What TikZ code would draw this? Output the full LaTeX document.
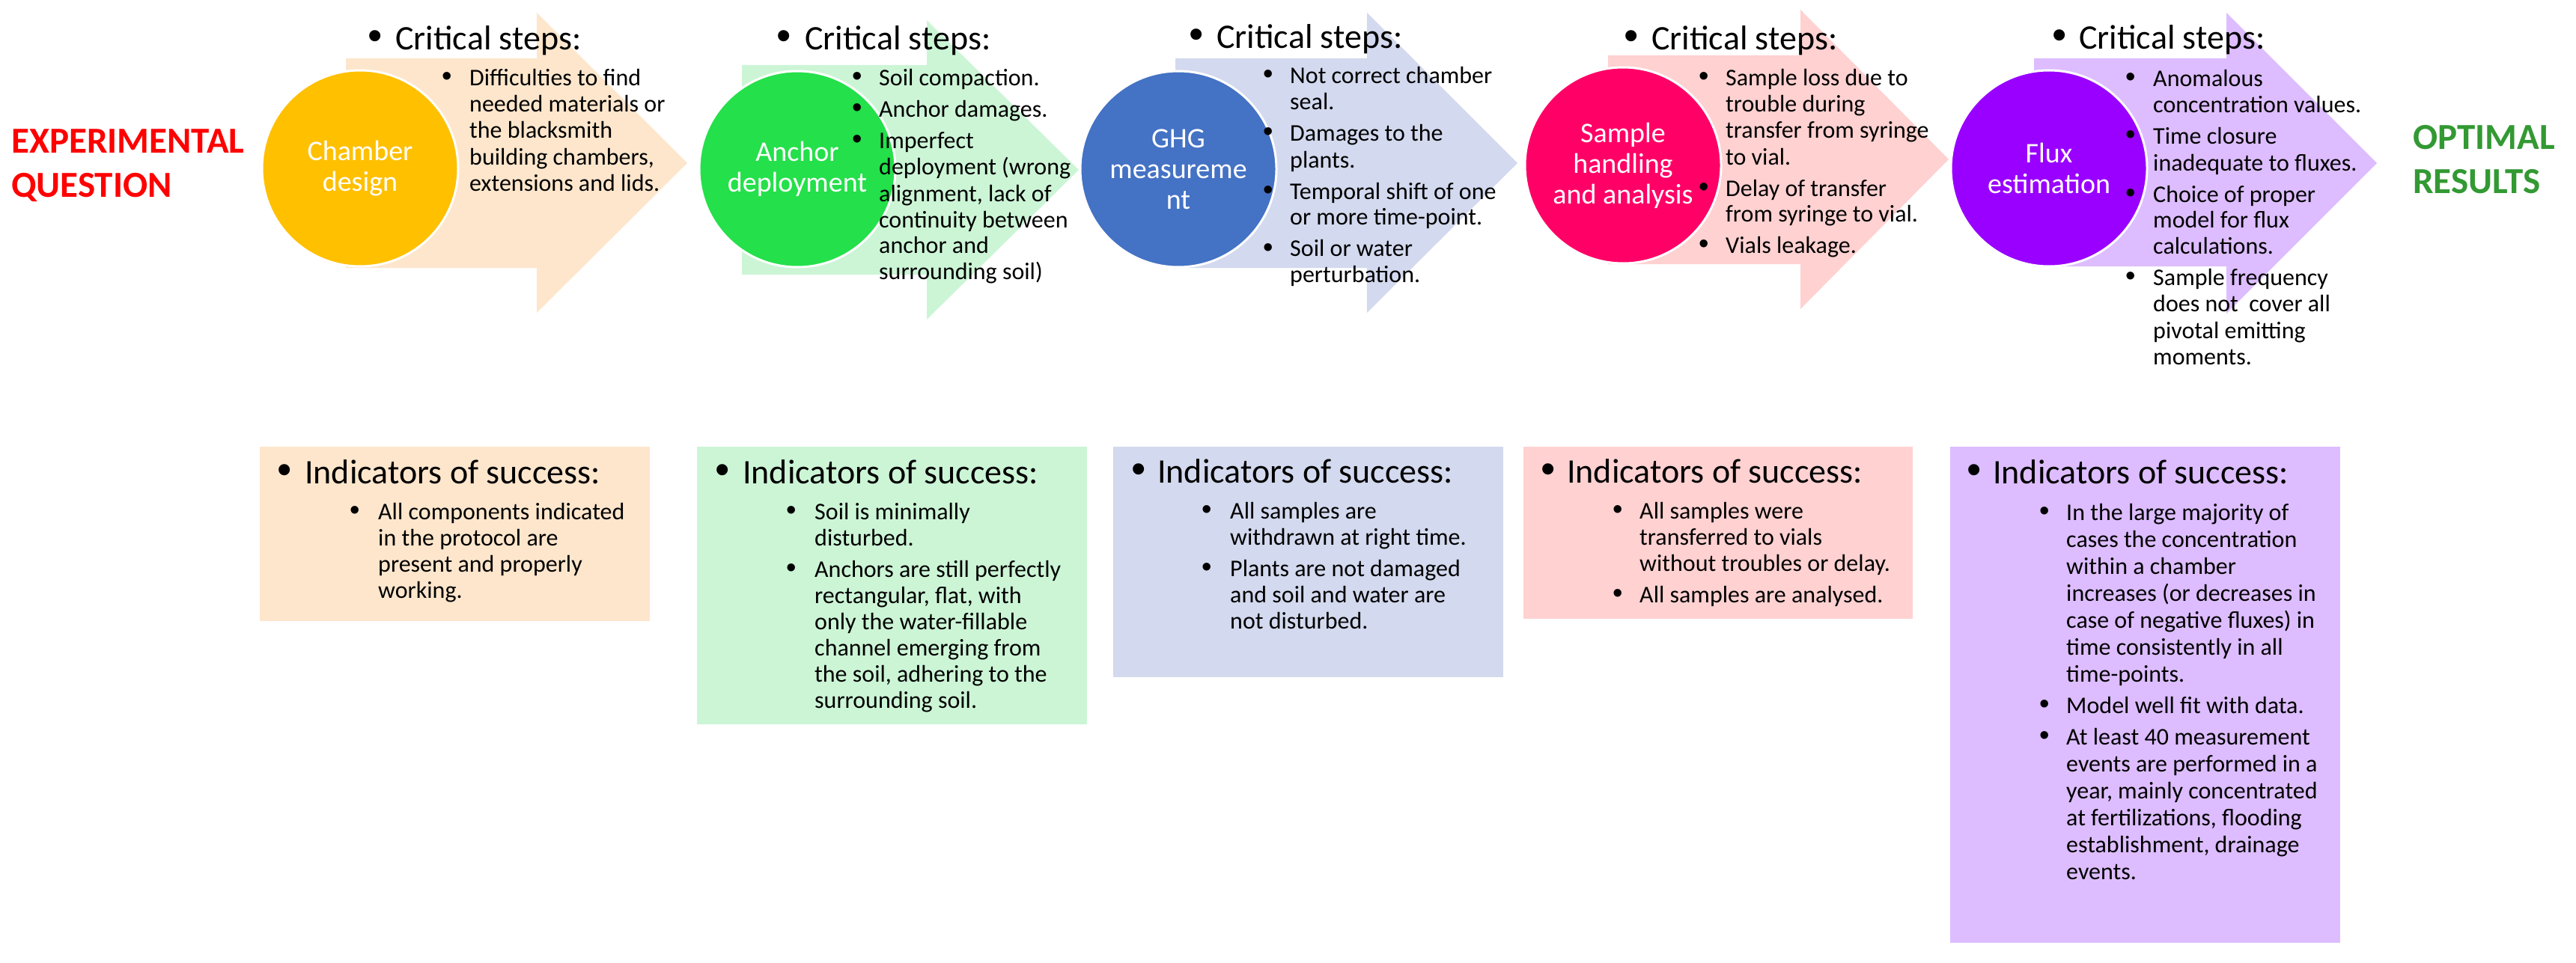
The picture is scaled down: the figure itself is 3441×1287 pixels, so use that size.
\documentclass[tikz,border=0pt]{standalone}
\usepackage{fontspec}
\setmainfont{Carlito}
\newfontfamily\bulfont{Liberation Sans}
\definecolor{cPeach}{HTML}{FDE6CC}
\definecolor{cMint}{HTML}{CCF5D6}
\definecolor{cLav}{HTML}{D3D9EE}
\definecolor{cRose}{HTML}{FFD1D1}
\definecolor{cLilac}{HTML}{DDBDFF}
\definecolor{cGold}{HTML}{FFC000}
\definecolor{cLime}{HTML}{24E04A}
\definecolor{cBlue}{HTML}{4472C4}
\definecolor{cHot}{HTML}{FF0066}
\definecolor{cViol}{HTML}{9900FF}
\definecolor{cRed}{HTML}{FF0000}
\definecolor{cGreen}{HTML}{339933}
\newcommand{\bul}[1]{\makebox[#1][l]{\hspace{-0.21em}\scalebox{1.2}{\bulfont •}}}
\newcommand{\bfirst}[2]{\noindent\hangindent=#1\hangafter=1\bul{#1}#2\par}
\newcommand{\bnext}[2]{\vspace{7pt}\bfirst{#1}{#2}}
\newcommand{\bnextb}[2]{\vspace{6pt}\bfirst{#1}{#2}}
\begin{document}
\begin{tikzpicture}[x=1pt,y=-1pt,
  hdr/.style={anchor=base west, inner sep=0pt, font=\fontsize{46}{50}\selectfont},
  lst/.style={anchor=base west, inner sep=0pt, font=\fontsize{32}{35}\selectfont},
  lstb/.style={anchor=base west, inner sep=0pt, font=\fontsize{32}{36}\selectfont},
  circ/.style={circle, minimum size=262pt, inner sep=0pt, draw=white, line width=3pt, text=white, align=center, font=\fontsize{38}{41}\selectfont},
  side/.style={anchor=base west, inner sep=0pt, font=\fontsize{49}{59}\selectfont\bfseries},
]
\useasboundingbox (0,0) rectangle (3441,1287);
% arrows
\fill[cPeach] (462,78) -- (717,78) -- (717,17) -- (918,218) -- (717,418) -- (717,358) -- (462,358) -- cycle;
\fill[cMint] (991,87) -- (1238,87) -- (1238,27) -- (1441,227) -- (1238,427) -- (1238,367) -- (991,367) -- cycle;
\fill[cLav] (1570,78) -- (1826,78) -- (1826,17) -- (2027,218) -- (1826,418) -- (1826,358) -- (1570,358) -- cycle;
\fill[cRose] (2148,74) -- (2405,74) -- (2405,13) -- (2603,213) -- (2405,413) -- (2405,353) -- (2148,353) -- cycle;
\fill[cLilac] (2717,78) -- (2974,78) -- (2974,17) -- (3175,218) -- (2974,419) -- (2974,356) -- (2717,356) -- cycle;
% circles
\node[circ, fill=cGold] (c1) at (481,225) {Chamber\\design};
\node[circ, fill=cLime] (c2) at (1065,226) {Anchor\\deployment};
\node[circ, fill=cBlue] (c3) at (1574,226) {GHG\\measureme\\nt};
\node[circ, fill=cHot] (c4) at (2168,221) {Sample\\handling\\and analysis};
\node[circ, fill=cViol] (c5) at (2737,225) {Flux\\estimation};
% side texts
\node[side, text=cRed] (eq) at (15,204) {\parbox[t]{400pt}{EXPERIMENTAL\\QUESTION}};
\node[side, text=cGreen] (opt) at (3223,199) {\parbox[t]{300pt}{OPTIMAL\\RESULTS}};
% critical steps headers
\node[hdr] (h1) at (501,67) {\bul{27pt}Critical steps:};
\node[hdr] (h2) at (1047,67) {\bul{28pt}Critical steps:};
\node[hdr] (h3) at (1598,65) {\bul{27pt}Critical steps:};
\node[hdr] (h4) at (2179,67) {\bul{27pt}Critical steps:};
\node[hdr] (h5) at (2751,66) {\bul{26pt}Critical steps:};
% critical lists
\node[lst] (k1) at (597,115) {\parbox[t]{600pt}{%
\bfirst{30pt}{Difficulties to find\\needed materials or\\the blacksmith\\building chambers,\\extensions and lids.}}};
\node[lst] (k2) at (1145,115) {\parbox[t]{600pt}{%
\bfirst{29pt}{Soil compaction.}%
\bnext{29pt}{Anchor damages.}%
\bnext{29pt}{Imperfect\\deployment (wrong\\alignment, lack of\\continuity between\\anchor and\\surrounding soil)}}};
\node[lst] (k3) at (1694,112) {\parbox[t]{600pt}{%
\bfirst{29pt}{Not correct chamber\\seal.}%
\bnext{29pt}{Damages to the\\plants.}%
\bnext{29pt}{Temporal shift of one\\or more time-point.}%
\bnext{29pt}{Soil or water\\perturbation.}}};
\node[lst] (k4) at (2276,115) {\parbox[t]{600pt}{%
\bfirst{29pt}{Sample loss due to\\trouble during\\transfer from syringe\\to vial.}%
\bnext{29pt}{Delay of transfer\\from syringe to vial.}%
\bnext{29pt}{Vials leakage.}}};
\node[lst] (k5) at (2846,116) {\parbox[t]{600pt}{%
\bfirst{30pt}{Anomalous\\concentration values.}%
\bnext{30pt}{Time closure\\inadequate to fluxes.}%
\bnext{30pt}{Choice of proper\\model for flux\\calculations.}%
\bnext{30pt}{Sample frequency\\does not\ \ cover all\\pivotal emitting\\moments.}}};
% indicator boxes
\fill[cPeach] (347,597) rectangle (868,830);
\fill[cMint] (931,597) rectangle (1452,968);
\fill[cLav] (1487,597) rectangle (2008,905);
\fill[cRose] (2035,597) rectangle (2555,827);
\fill[cLilac] (2605,597) rectangle (3126,1260);
\node[hdr] (i1) at (380,646) {\bul{27pt}Indicators of success:};
\node[hdr] (i2) at (965,646) {\bul{27pt}Indicators of success:};
\node[hdr] (i3) at (1521,645) {\bul{25pt}Indicators of success:};
\node[hdr] (i4) at (2068,645) {\bul{25pt}Indicators of success:};
\node[hdr] (i5) at (2637,646) {\bul{25pt}Indicators of success:};
\node[lst] (s1) at (474,694) {\parbox[t]{600pt}{%
\bfirst{31pt}{All components indicated\\in the protocol are\\present and properly\\working.}}};
\node[lst] (s2) at (1057,694) {\parbox[t]{600pt}{%
\bfirst{31pt}{Soil is minimally\\disturbed.}%
\bnext{31pt}{Anchors are still perfectly\\rectangular, flat, with\\only the water-fillable\\channel emerging from\\the soil, adhering to the\\surrounding soil.}}};
\node[lst] (s3) at (1612,693) {\parbox[t]{600pt}{%
\bfirst{31pt}{All samples are\\withdrawn at right time.}%
\bnext{31pt}{Plants are not damaged\\and soil and water are\\not disturbed.}}};
\node[lst] (s4) at (2161,693) {\parbox[t]{600pt}{%
\bfirst{29pt}{All samples were\\transferred to vials\\without troubles or delay.}%
\bnext{29pt}{All samples are analysed.}}};
\node[lstb] (s5) at (2731,695) {\parbox[t]{600pt}{%
\bfirst{29pt}{In the large majority of\\cases the concentration\\within a chamber\\increases (or decreases in\\case of negative fluxes) in\\time consistently in all\\time-points.}%
\bnextb{29pt}{Model well fit with data.}%
\bnextb{29pt}{At least 40 measurement\\events are performed in a\\year, mainly concentrated\\at fertilizations, flooding\\establishment, drainage\\events.}}};
\end{tikzpicture}
\end{document}
